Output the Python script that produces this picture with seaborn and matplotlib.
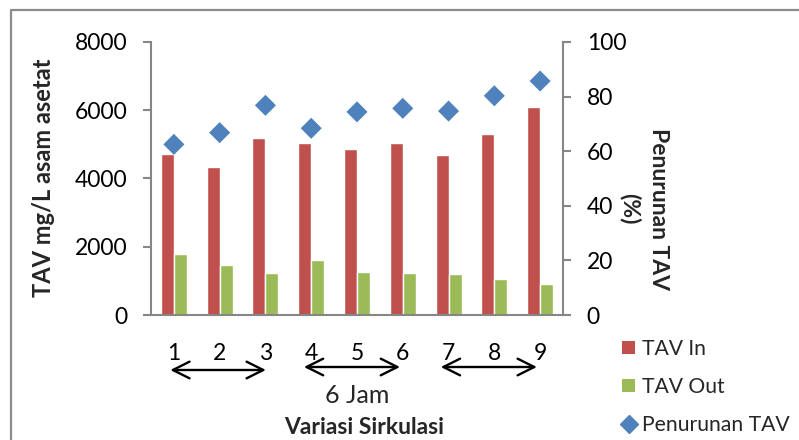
import matplotlib
matplotlib.use("Agg")
import matplotlib.pyplot as plt
import seaborn as sns
import pandas as pd
from matplotlib.patches import Patch
from matplotlib.lines import Line2D

# Data
sirkulasi = ["1", "2", "3", "4", "5", "6", "7", "8", "9"]
tav_in = [4720, 4340, 5190, 5040, 4870, 5040, 4690, 5310, 6100]
tav_out = [1790, 1460, 1230, 1610, 1260, 1230, 1200, 1050, 910]
penurunan = [62.5, 66.8, 76.8, 68.4, 74.4, 75.7, 74.7, 80.3, 85.7]
left_ticks = [0, 2000, 4000, 6000, 8000]
right_ticks = [0, 20, 40, 60, 80, 100]

RED = "#C0504D"
GREEN = "#9BBB59"
BLUE = "#4F81BD"
GREY = "#868686"

sns.set_theme(style="white")
plt.rcParams["font.family"] = ["Lato", "DejaVu Sans"]

W, H = 799, 440
fig = plt.figure(figsize=(W / 100, H / 100), dpi=100)
ax = fig.add_axes([151 / W, 1 - 315 / H, (563 - 151) / W, (315 - 42) / H])

df = pd.DataFrame({
    "Sirkulasi": sirkulasi * 2,
    "TAV": tav_in + tav_out,
    "Jenis": ["TAV In"] * len(sirkulasi) + ["TAV Out"] * len(sirkulasi),
})
sns.barplot(data=df, x="Sirkulasi", y="TAV", hue="Jenis", order=sirkulasi,
            palette=[RED, GREEN], width=0.57, saturation=1, legend=False,
            ax=ax)

ax2 = ax.twinx()
pos = list(range(len(sirkulasi)))
sns.scatterplot(x=pos, y=penurunan, marker="D", color=BLUE, s=115,
                edgecolor="none", ax=ax2, zorder=5)

ax.set_xlim(-0.5, len(sirkulasi) - 0.5)
ax.set_ylim(0, 8000)
ax2.set_ylim(0, 100)
ax.set_yticks(left_ticks)
ax2.set_yticks(right_ticks)
ax.set_xlabel("")
ax.set_ylabel("")
ax2.set_ylabel("")

for a in (ax, ax2):
    for s in a.spines.values():
        s.set_visible(False)
ax.spines["left"].set_visible(True)
ax.spines["bottom"].set_visible(True)
ax2.spines["right"].set_visible(True)
for s in (ax.spines["left"], ax.spines["bottom"], ax2.spines["right"]):
    s.set_color(GREY)
    s.set_linewidth(1.5)

TICK_FS = 16.5
ax.tick_params(axis="y", length=6, width=1.5, color=GREY, pad=11,
               labelsize=TICK_FS, labelcolor="black", left=True)
ax2.tick_params(axis="y", length=6, width=1.5, color=GREY, pad=11,
                labelsize=TICK_FS, labelcolor="black", right=True)
ax.tick_params(axis="x", length=0, pad=20, labelsize=TICK_FS,
               labelcolor="black")
ax.set_xticks(pos)
ax.set_xticklabels(sirkulasi)

# Double-headed arrows grouping the circulation runs
groups = [(-0.08, 2.01, 370), (2.84, 4.94, 367), (5.83, 7.93, 367)]
for x0, x1, ypx in groups:
    ax.annotate("", xy=(x1, 1 - ypx / H), xytext=(x0, 1 - ypx / H),
                xycoords=("data", "figure fraction"),
                textcoords=("data", "figure fraction"),
                arrowprops=dict(arrowstyle="<->,head_length=1.0,head_width=0.5",
                                color="black", lw=1.7,
                                shrinkA=0, shrinkB=0),
                annotation_clip=False)

fig.text(357 / W, 1 - 395 / H, "6 Jam", ha="center", va="center",
         fontsize=18)
fig.text(364 / W, 1 - 427 / H, "Variasi Sirkulasi", ha="center",
         va="center", fontsize=16.5, fontweight="bold")
fig.text(44 / W, 1 - 178 / H, "TAV mg/L asam asetat", rotation=90,
         ha="center", va="center", fontsize=17, fontweight="bold")
fig.text(644 / W, 1 - 209 / H, "Penurunan TAV\n(%)", rotation=270,
         ha="center", va="center", fontsize=16.5, fontweight="bold",
         linespacing=1.4, multialignment="center")

handles = [
    Patch(facecolor=RED, edgecolor="none", label="TAV In"),
    Patch(facecolor=GREEN, edgecolor="none", label="TAV Out"),
    Line2D([], [], marker="D", color=BLUE, linestyle="none",
           markersize=9.5, label="Penurunan TAV"),
]
fig.legend(handles=handles, loc="upper left",
           bbox_to_anchor=(622 / W, 1 - 339 / H), frameon=False,
           fontsize=15.2, handlelength=0.62, handleheight=0.62,
           handletextpad=0.35, labelspacing=0.85, borderpad=0,
           borderaxespad=0)

# Chart-area frame
fig.add_artist(Line2D([11 / W, 11 / W, 1], [0, 1 - 10 / H, 1 - 10 / H],
                      transform=fig.transFigure, color="#8C8C8C", lw=1.6))

fig.savefig("out.png", dpi=100)
